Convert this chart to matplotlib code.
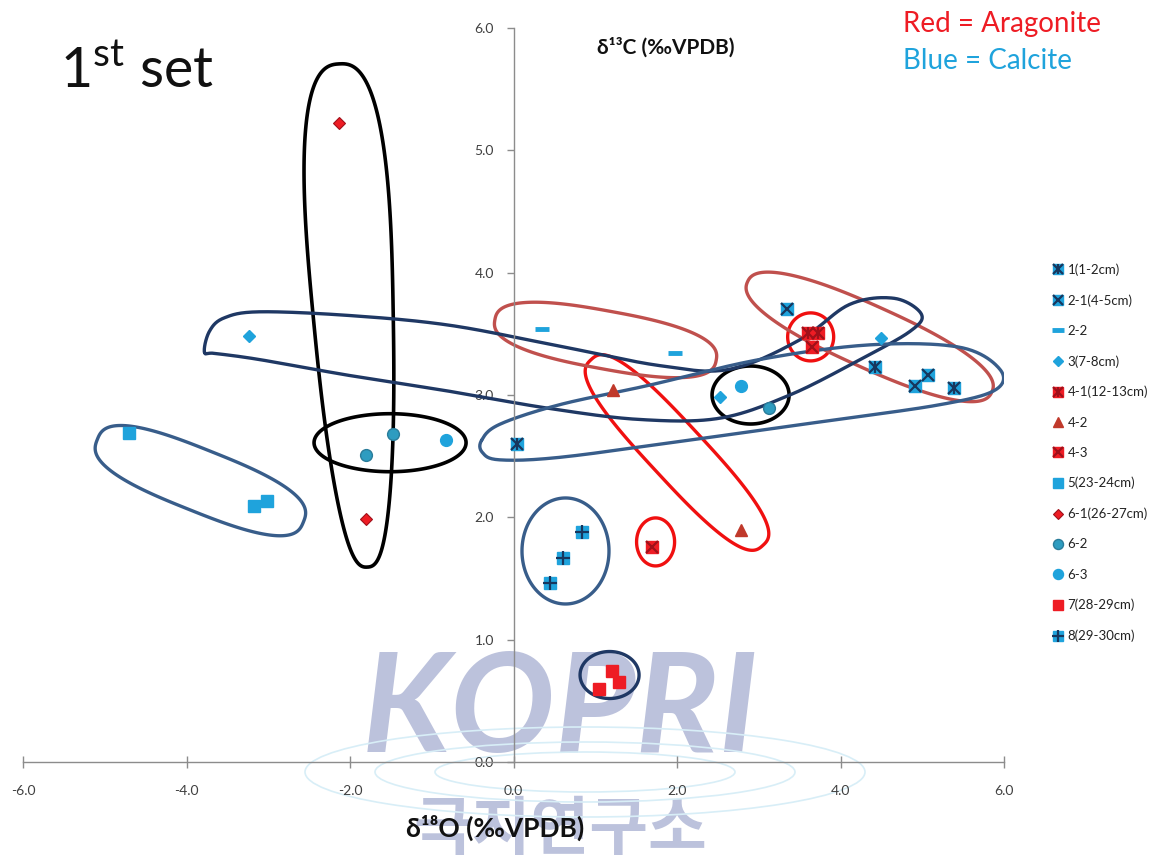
import numpy as np
import matplotlib
matplotlib.use("Agg")
import matplotlib.pyplot as plt
from matplotlib.lines import Line2D
from matplotlib.patches import Polygon, Ellipse
from matplotlib.transforms import Affine2D, ScaledTranslation
from matplotlib.legend_handler import HandlerTuple

plt.rcParams['font.family'] = ['Lato', 'DejaVu Sans']
plt.rcParams['mathtext.fontset'] = 'custom'
plt.rcParams['mathtext.rm'] = 'Lato'
plt.rcParams['mathtext.bf'] = 'Lato:bold'

# ---- isotope data: d18O (x) and d13C (y), permil VPDB ----
s1_x = [0.04, 4.42, 5.39]
s1_y = [2.60, 3.23, 3.06]
s21_x = [3.35, 5.07, 4.91]
s21_y = [3.70, 3.16, 3.07]
s22_x = [0.35, 1.97]
s22_y = [3.54, 3.34]
s3_x = [-3.23, 4.49, 2.52]
s3_y = [3.48, 3.47, 2.98]
s41_x = [3.60, 3.72]
s41_y = [3.51, 3.51]
s42_x = [1.22, 2.78]
s42_y = [3.04, 1.90]
s43_x = [3.65, 1.70]
s43_y = [3.39, 1.76]
s5_x = [-4.70, -3.17, -3.01]
s5_y = [2.69, 2.09, 2.13]
s61_x = [-2.14, -1.81]
s61_y = [5.22, 1.99]
s62_x = [-1.80, -1.47, 3.12]
s62_y = [2.51, 2.68, 2.89]
s63_x = [-0.82, 2.78]
s63_y = [2.63, 3.07]
s7_x = [1.20, 1.29, 1.05]
s7_y = [0.74, 0.65, 0.60]
s8_x = [0.84, 0.60, 0.45]
s8_y = [1.88, 1.67, 1.46]

labels = ['1(1-2cm)', '2-1(4-5cm)', '2-2', '3(7-8cm)', '4-1(12-13cm)', '4-2', '4-3',
          '5(23-24cm)', '6-1(26-27cm)', '6-2', '6-3', '7(28-29cm)', '8(29-30cm)']
x_ticks = [-6.0, -4.0, -2.0, 0.0, 2.0, 4.0, 6.0]
y_ticks = [0.0, 1.0, 2.0, 3.0, 4.0, 5.0, 6.0]

LB = '#1FA3DC'   # calcite blue
NV = '#17375E'   # navy marker strokes
DR = '#A0101A'   # dark red
RD = '#EE1C24'   # red
BR = '#C0392B'   # brown-red triangle
TL = '#2E9CC0'   # teal circle

fig = plt.figure(figsize=(11.68, 8.58), dpi=100)
ax = fig.add_axes([23 / 1168, 96 / 858, 981 / 1168, 734 / 858])
ax.set_xlim(-6, 6)
ax.set_ylim(0, 6)

for side in ('top', 'right'):
    ax.spines[side].set_visible(False)
ax.spines['left'].set_position(('data', 0))
ax.spines['bottom'].set_position(('data', 0))
for side in ('left', 'bottom'):
    ax.spines[side].set_color('#8C8C8C')
    ax.spines[side].set_linewidth(1.0)
    ax.spines[side].set_zorder(3)
ax.set_xticks(x_ticks)
ax.set_yticks(y_ticks)
ax.set_xticklabels([f'{v:.1f}' for v in x_ticks])
ax.set_yticklabels([f'{v:.1f}' for v in y_ticks])
ax.tick_params(axis='x', direction='inout', length=9, width=1, color='#8C8C8C',
               labelsize=10, labelcolor='#404040', pad=12)
ax.tick_params(axis='y', direction='out', length=5, width=1, color='#8C8C8C',
               labelsize=10, labelcolor='#404040', pad=9)
ax.patch.set_alpha(0)

# ---- faint institute watermark behind the marks ----
wm = '#BCC2DC'
ax.text(560 / 1168, 1 - 712 / 858, 'KOPRI', fontsize=100, fontweight='bold',
        fontstyle='italic', color=wm, ha='center', va='center', zorder=0.5,
        transform=fig.transFigure, clip_on=False, family=['Lato', 'DejaVu Sans'])
ax.text(560 / 1168, 1 - 830 / 858, '극지연구소', fontsize=46, fontweight='bold',
        color=wm, ha='center', va='center', zorder=0.5, transform=fig.transFigure,
        clip_on=False, family=['Noto Sans CJK KR'])
for (w, h) in [(560, 90), (420, 60), (300, 40)]:
    e = Ellipse((0, 0), w, h, fill=False, ec='#D8EEF7', lw=1.2, zorder=0.6, clip_on=False,
                transform=Affine2D() + ScaledTranslation(585 / 1168, 1 - 772 / 858, fig.transFigure))
    ax.add_patch(e)


def place(cx, cy):
    return ScaledTranslation(cx, cy, ax.transData)


def blob(cx, cy, length, width, angle, color, power=2.0, taper=0.0, lw=2.4):
    """Closed loop sized in pixels, centred on a data position."""
    t = np.linspace(0, 2 * np.pi, 240)
    c, s = np.cos(t), np.sin(t)
    px = (length / 2) * np.sign(c) * np.abs(c) ** (2 / power)
    py = (width / 2) * np.sign(s) * np.abs(s) ** (2 / power) * (1 + taper * px / (length / 2))
    poly = Polygon(np.column_stack([px, py]), closed=True, fill=False, ec=color, lw=lw,
                   transform=Affine2D().rotate_deg(angle) + place(cx, cy), zorder=2)
    ax.add_patch(poly)


def spline_loop(xs, ys, color, lw=2.4, n=24):
    """Smooth closed Catmull-Rom loop through data positions."""
    pts = np.column_stack([xs, ys])
    m = len(pts)
    out = []
    for i in range(m):
        p0, p1, p2, p3 = pts[i - 1], pts[i], pts[(i + 1) % m], pts[(i + 2) % m]
        for t in np.linspace(0, 1, n, endpoint=False):
            t2, t3 = t * t, t * t * t
            out.append(0.5 * ((2 * p1) + (-p0 + p2) * t + (2 * p0 - 5 * p1 + 4 * p2 - p3) * t2
                              + (-p0 + 3 * p1 - 3 * p2 + p3) * t3))
    out = np.array(out + [out[0]])
    ax.plot(out[:, 0], out[:, 1], color=color, lw=lw, zorder=2, solid_capstyle='round')


# ---- grouping loops ----
BLK = '#000000'
NAVY = '#1F3864'
STEEL = '#385D8A'
ROSE = '#C0504D'
RED = '#F01010'

blob(-1.96, 3.65, 504, 80, 93.2, BLK, power=2.6, taper=0.25, lw=2.6)
blob(-1.51, 2.61, 152, 58, 0, BLK, lw=2.6)
blob(2.90, 3.00, 77, 58, 0, BLK, lw=2.6)
blob(2.00, 2.53, 253, 56, -47.2, RED, power=2.8)
blob(3.635, 3.475, 46, 48, 0, RED)
blob(1.738, 1.799, 38, 48, 0, RED)
blob(1.126, 3.45, 225, 58, -10.4, ROSE, power=2.6)
blob(4.357, 3.475, 268, 62, -24.3, ROSE, power=2.4)
blob(-3.83, 2.30, 222, 62, -21.8, STEEL, power=2.8)
blob(0.636, 1.725, 87, 106, 0, STEEL)
blob(1.175, 0.711, 59, 47, 0, NAVY)

loopD_x = [-3.78, -3.72, -3.54, -3.11, -2.01, -0.78, 0.56, 1.79, 2.64, 3.50, 4.11, 4.66, 4.99,
           4.85, 4.24, 3.38, 2.52, 1.54, 0.44, -0.78, -2.01, -3.11, -3.65]
loopD_y = [3.35, 3.52, 3.63, 3.68, 3.65, 3.57, 3.40, 3.24, 3.21, 3.45, 3.74, 3.79, 3.66,
           3.52, 3.29, 3.00, 2.81, 2.80, 2.89, 3.03, 3.16, 3.29, 3.34]
spline_loop(loopD_x, loopD_y, NAVY)

loopM_x = [-0.39, -0.17, 0.56, 1.66, 3.01, 4.36, 5.46, 5.95, 5.89, 5.21, 3.75, 2.03, 0.56, -0.17, -0.38]
loopM_y = [2.63, 2.76, 2.92, 3.08, 3.29, 3.41, 3.39, 3.21, 3.04, 2.92, 2.78, 2.62, 2.49, 2.47, 2.53]
spline_loop(loopM_x, loopM_y, STEEL)

# ---- scatter series (layered markers) ----
series = [
    (s1_x, s1_y, [dict(marker='s', ms=8, mfc=LB, mec=LB), dict(marker='x', ms=8, mec=NV, mew=1.6),
                  dict(marker='|', ms=9, mec=NV, mew=1.6)]),
    (s21_x, s21_y, [dict(marker='s', ms=8.5, mfc=LB, mec=LB), dict(marker='x', ms=8.5, mec=NV, mew=1.6)]),
    (s22_x, s22_y, [dict(marker='_', ms=10, mec=LB, mew=3.5)]),
    (s3_x, s3_y, [dict(marker='D', ms=6.5, mfc=LB, mec=LB)]),
    (s41_x, s41_y, [dict(marker='s', ms=8, mfc=RD, mec=RD), dict(marker='x', ms=8, mec=DR, mew=1.6),
                    dict(marker='|', ms=9, mec=DR, mew=1.6)]),
    (s42_x, s42_y, [dict(marker='^', ms=8, mfc=BR, mec=BR)]),
    (s43_x, s43_y, [dict(marker='s', ms=8.5, mfc=RD, mec=RD), dict(marker='x', ms=8.5, mec=DR, mew=1.6)]),
    (s5_x, s5_y, [dict(marker='s', ms=9, mfc=LB, mec=LB)]),
    (s61_x, s61_y, [dict(marker='D', ms=6.5, mfc=RD, mec=DR, mew=0.8)]),
    (s62_x, s62_y, [dict(marker='o', ms=8.5, mfc=TL, mec='#2A7C9A', mew=1.0)]),
    (s63_x, s63_y, [dict(marker='o', ms=8.5, mfc=LB, mec=LB)]),
    (s7_x, s7_y, [dict(marker='s', ms=8.5, mfc=RD, mec=RD)]),
    (s8_x, s8_y, [dict(marker='s', ms=8.5, mfc=LB, mec=LB), dict(marker='+', ms=10, mec=NV, mew=1.6)]),
]

handles = []
for xs, ys, layers in series:
    group = []
    for st in layers:
        ax.plot(xs, ys, ls='none', zorder=4, **st)
        hs = dict(st)
        hs['ms'] = st['ms'] * 0.85
        group.append(Line2D([], [], ls='none', **hs))
    handles.append(tuple(group))

fig.legend(handles, labels, loc='upper left', bbox_to_anchor=(1047 / 1168, 1 - 258 / 858),
           frameon=False, fontsize=9.5, labelspacing=1.38, handlelength=0.9,
           handletextpad=0.25, borderaxespad=0, handler_map={tuple: HandlerTuple(ndivide=1)},
           labelcolor='#222222')

# ---- titles and notes ----
fig.text(60 / 1168, 1 - 72 / 858, r'1$^{\mathrm{st}}$ set', fontsize=40, color='#111111',
         ha='left', va='center')
fig.text(666 / 1168, 1 - 47 / 858, 'δ¹³C (‰VPDB)', fontsize=15, fontweight='bold',
         ha='center', va='center', color='#111111')
fig.text(495 / 1168, 1 - 828 / 858, 'δ¹⁸O (‰VPDB)', fontsize=19, fontweight='bold',
         ha='center', va='center', color='#111111', zorder=5)
fig.text(903 / 1168, 1 - 24 / 858, 'Red = Aragonite', fontsize=20, color='#EE1C24',
         ha='left', va='center')
fig.text(903 / 1168, 1 - 61 / 858, 'Blue = Calcite', fontsize=20, color='#1FA3DC',
         ha='left', va='center')

fig.savefig('out.png', dpi=100)
